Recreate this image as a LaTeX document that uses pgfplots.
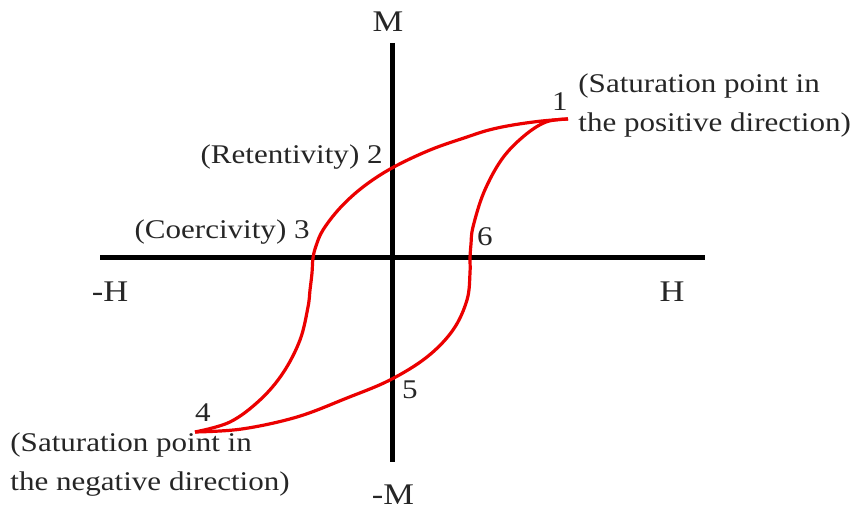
\documentclass[border=0pt]{standalone}
\usepackage{graphicx}
\usepackage{pgfplots}
\pgfplotsset{compat=1.18}
\usepackage{fontspec}
\setmainfont{Liberation Serif}
\newcommand{\sx}[1]{\scalebox{1.15}[1]{#1}}
\begin{document}
\begin{tikzpicture}
\begin{axis}[
  width=428bp, height=255bp, scale only axis,
  xmin=-392, xmax=464, ymin=-252, ymax=258,
  hide axis, clip=false,
]
\coordinate (ll) at (axis cs:-392,-252);
\coordinate (ur) at (axis cs:464,258);
% axes
\addplot[black, line width=2.5bp] coordinates {(-292,0) (313,0)};
\addplot[black, line width=2.5bp] coordinates {(0,215) (0,-204)};
% branch 1 -> 2 -> 3 -> 4
\addplot[red!92!black, line width=1.6bp, smooth, tension=0.6] coordinates {
 (176,139) (150,137) (121,133) (97,128) (75,121) (38,108) (0,90) (-29,71) (-52,50) (-69,28) (-76,12) (-79,0)
 (-80,-15) (-82,-32) (-84,-49) (-92,-82) (-109,-115) (-132,-142) (-162,-164) (-197,-174)};
% branch 4 -> 5 -> 6 -> 1
\addplot[red!92!black, line width=1.6bp, smooth, tension=0.6] coordinates {
 (-197,-174) (-150,-171) (-95,-159) (-45,-140) (-2,-122) (35,-99) (61,-72) (75,-42)
 (78,-15) (78,0) (79,14) (81,31) (92,66) (110,99) (132,122) (154,136) (176,139)};
\begin{scope}[every node/.style={inner sep=0pt, text=black!85}, font=\fontsize{13.5bp}{19bp}\selectfont]
\node[font=\fontsize{15bp}{18bp}\selectfont] at (axis cs:-4,236) {\sx{M}};
\node[font=\fontsize{15bp}{18bp}\selectfont] at (axis cs:1,-237) {\sx{-M}};
\node[font=\fontsize{15bp}{18bp}\selectfont] at (axis cs:-282,-34) {\sx{-H}};
\node[font=\fontsize{15bp}{18bp}\selectfont] at (axis cs:280,-34) {\sx{H}};
\node at (axis cs:168,156) {\sx{1}};
\node[anchor=base west] at (axis cs:186,165) {\sx{(Saturation point in}};
\node[anchor=base west] at (axis cs:186,126) {\sx{the positive direction)}};
\node[anchor=east] at (axis cs:-9,101) {\sx{(Retentivity) 2}};
\node[anchor=east] at (axis cs:-82,26) {\sx{(Coercivity) 3}};
\node at (axis cs:93,21) {\sx{6}};
\node at (axis cs:18,-132) {\sx{5}};
\node at (axis cs:-189,-155) {\sx{4}};
\node[anchor=base west] at (axis cs:-382,-194) {\sx{(Saturation point in}};
\node[anchor=base west] at (axis cs:-382,-233) {\sx{the negative direction)}};
\end{scope}
\end{axis}
\pgfresetboundingbox
\path[use as bounding box] (ll) rectangle (ur);
\end{tikzpicture}
\end{document}
